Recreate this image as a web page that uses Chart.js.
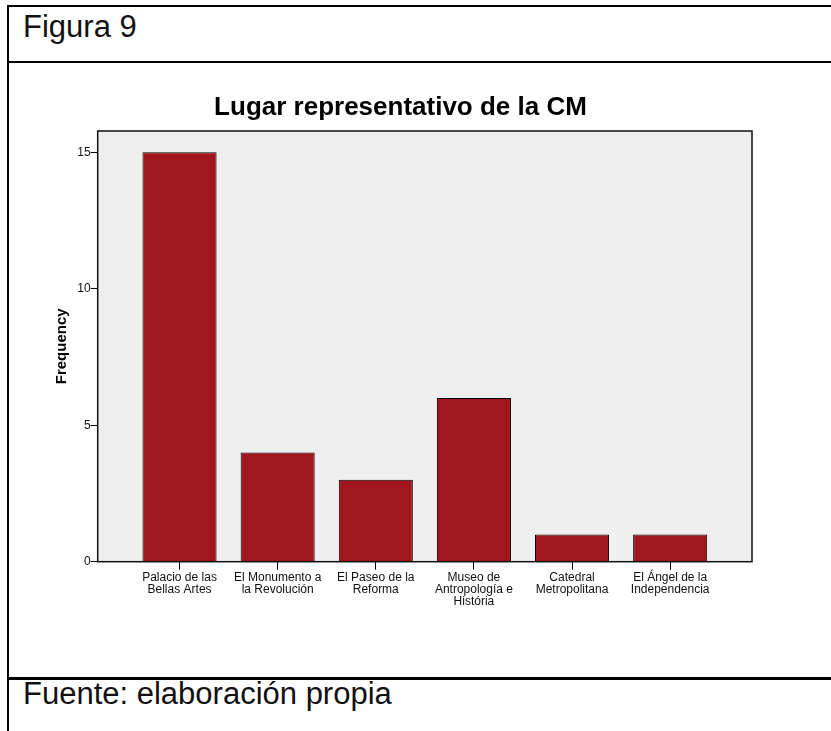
<!DOCTYPE html>
<html>
<head>
<meta charset="utf-8">
<script src="https://cdn.jsdelivr.net/npm/chart.js@4"></script>
<style>
  body { margin: 0; background: #fff; font-family: Arial, "Liberation Sans", sans-serif; }
  .line { position: absolute; background: #000; }
  .txt { position: absolute; line-height: 30px; color: #111; white-space: nowrap; }
  #myChart { position: absolute; left: 9px; top: 63px; }
</style>
</head>
<body>
<div class="line" style="left:7px;top:5px;width:840px;height:2px"></div>
<div class="line" style="left:7px;top:5px;width:2px;height:740px"></div>
<div class="line" style="left:7px;top:61px;width:840px;height:2px"></div>
<div class="line" style="left:7px;top:677px;width:840px;height:3px"></div>
<div class="txt" style="left:23px;top:12px;font-size:31px">Figura 9</div>
<div class="txt" style="left:23px;top:679px;font-size:31px">Fuente: elaboración propia</div>
<canvas id="myChart" width="786" height="614"></canvas>
<script>
let labels = [
    ['Palacio de las', 'Bellas Artes'],
    ['El Monumento a', 'la Revolución'],
    ['El Paseo de la', 'Reforma'],
    ['Museo de', 'Antropología e', 'História'],
    ['Catedral', 'Metropolitana'],
    ['El Ángel de la', 'Independencia']
]
let frequency = [15, 4, 3, 6, 1, 1]
let yTicks = [0, 5, 10, 15]

let points = frequency.map((v, i) => ({x: i, y: v}))

// grey plot background + black frame, like the SPSS output
const plotFrame = {
    id: 'plotFrame',
    beforeDatasetsDraw(chart) {
        const a = chart.chartArea
        const ctx = chart.ctx
        ctx.save()
        ctx.fillStyle = '#efefef'
        ctx.fillRect(a.left, a.top, a.right - a.left, a.bottom - a.top)
        ctx.restore()
    },
    afterDatasetsDraw(chart) {
        const a = chart.chartArea
        const ctx = chart.ctx
        ctx.save()
        ctx.strokeStyle = '#111'
        ctx.lineWidth = 1.5
        ctx.strokeRect(a.left, a.top, a.right - a.left, a.bottom - a.top)
        ctx.restore()
    }
}

let data = {
    datasets: [{
        label: 'Frequency',
        data: points,
        backgroundColor: '#a0161c',
        borderColor: '#000',
        borderWidth: 1,
        barPercentage: 0.755,
        categoryPercentage: 1
    }]
}

let config = {
    type: 'bar',
    data: data,
    options: {
        responsive: false,
        animation: false,
        layout: { padding: { left: 40, right: 43, top: 0, bottom: 0 } },
        plugins: {
            legend: { display: false },
            tooltip: { enabled: false },
            title: {
                display: true,
                text: 'Lugar representativo de la CM',
                color: '#000',
                font: { family: 'Arial, "Liberation Sans", sans-serif', size: 26, weight: 'bold' },
                padding: { top: 28.8, bottom: 8 }
            }
        },
        scales: {
            x: {
                type: 'linear',
                offset: false,
                min: -0.834,
                max: 5.834,
                afterBuildTicks: s => { s.ticks = labels.map((l, i) => ({value: i})) },
                afterFit: s => { s.height = 115.3 },
                grid: { offset: false, drawOnChartArea: false, drawTicks: true, tickLength: 8, color: '#000' },
                border: { display: false },
                ticks: {
                    autoSkip: false,
                    maxRotation: 0,
                    padding: 2,
                    color: '#111',
                    font: { family: 'Arial, "Liberation Sans", sans-serif', size: 12, lineHeight: 1.0 },
                    callback: v => labels[v]
                }
            },
            y: {
                min: 0,
                max: 15.78,
                afterBuildTicks: s => { s.ticks = yTicks.map(v => ({value: v})) },
                afterFit: s => { s.width = 48.7 },
                grid: { drawOnChartArea: false, drawTicks: true, tickLength: 7, color: '#000' },
                border: { display: false },
                ticks: {
                    padding: 0,
                    color: '#111',
                    font: { family: 'Arial, "Liberation Sans", sans-serif', size: 12 }
                },
                title: {
                    display: true,
                    text: 'Frequency',
                    color: '#000',
                    font: { family: 'Arial, "Liberation Sans", sans-serif', size: 15, weight: 'bold' },
                    padding: { top: 4, bottom: 0 }
                }
            }
        }
    },
    plugins: [plotFrame]
}

let myChart = new Chart(document.getElementById('myChart'), config)
</script>
</body>
</html>
